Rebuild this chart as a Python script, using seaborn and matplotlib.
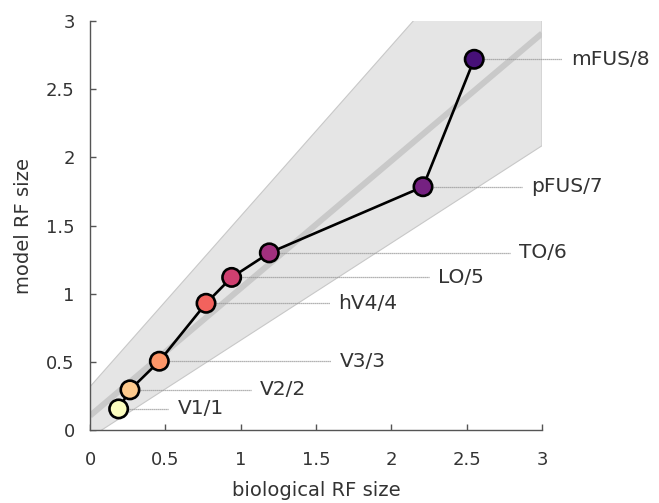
import numpy as np
import matplotlib
matplotlib.use("Agg")
import matplotlib.pyplot as plt
import seaborn as sns

# data
areas = ["V1/1", "V2/2", "V3/3", "hV4/4", "LO/5", "TO/6", "pFUS/7", "mFUS/8"]
bio_rf = [0.19, 0.265, 0.46, 0.77, 0.94, 1.19, 2.21, 2.55]
model_rf = [0.155, 0.295, 0.505, 0.93, 1.12, 1.30, 1.785, 2.72]
label_x = [0.58, 1.13, 1.66, 1.65, 2.31, 2.85, 2.93, 3.19]

# fit line and band (endpoints at x=0 and x=3)
fit_x = [0, 3]
fit_y = [0.105, 2.91]
band_upper = [0.318, 4.07]
band_lower = [-0.055, 2.086]

ticks = [0, 0.5, 1, 1.5, 2, 2.5, 3]
tick_labels = ["0", "0.5", "1", "1.5", "2", "2.5", "3"]

sns.set_style("ticks")
plt.rcParams["font.family"] = ["DejaVu Sans"]
txt = "#333333"

fig = plt.figure(figsize=(6.59, 5.03), dpi=100)
ax = fig.add_axes([0.1366, 0.145, 0.6859, 0.813])

ax.fill_between(fit_x, band_lower, band_upper, color="#e5e5e5",
                edgecolor="#c8c8c8", linewidth=0.8, zorder=1)
ax.plot(fit_x, fit_y, color="#c9c9c9", linewidth=4.3, zorder=2,
        solid_capstyle="butt")

colors = [plt.cm.magma(v) for v in np.linspace(1.0, 0.23, len(areas))]

# leader lines and labels
for x, y, lx, name in zip(bio_rf, model_rf, label_x, areas):
    ax.plot([x, lx - 0.06], [y, y], linestyle=(0, (1, 0.6)), color="#9a9a9a",
            linewidth=0.9, zorder=3, clip_on=False)
    ax.text(lx, y, name, va="center", ha="left", fontsize=14.5, color=txt,
            clip_on=False)

sns.lineplot(x=bio_rf, y=model_rf, color="black", linewidth=1.9, ax=ax,
             zorder=4, sort=False)
ax.scatter(bio_rf, model_rf, s=175, c=colors, edgecolors="black",
           linewidths=1.9, zorder=5, clip_on=False)

ax.set_xlim(0, 3)
ax.set_ylim(0, 3)
ax.set_xticks(ticks)
ax.set_xticklabels(tick_labels)
ax.set_yticks(ticks)
ax.set_yticklabels(tick_labels)
ax.tick_params(direction="in", length=4, width=1, color="#555555",
               labelsize=13, labelcolor=txt)
ax.tick_params(axis="x", pad=15)
ax.tick_params(axis="y", pad=11)
for s in ["left", "bottom"]:
    ax.spines[s].set_color("#555555")
    ax.spines[s].set_linewidth(1.0)
sns.despine(ax=ax)

ax.set_xlabel("biological RF size", fontsize=14, color=txt, labelpad=9)
ax.set_ylabel("model RF size", fontsize=14, color=txt, labelpad=9)

fig.savefig("out.png", dpi=100)
